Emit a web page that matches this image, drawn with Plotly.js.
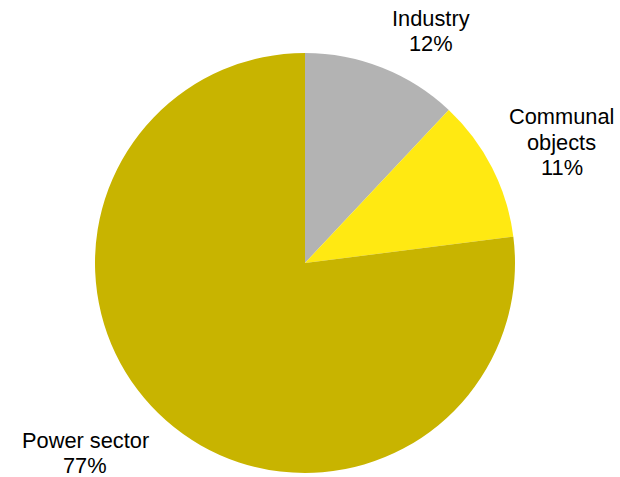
<!DOCTYPE html>
<html>
<head>
<meta charset="utf-8">
<script src="https://cdn.plot.ly/plotly-3.0.1.min.js"></script>
<style>html,body{margin:0;padding:0;background:#fff;}#chart{width:620px;height:477px;}</style>
</head>
<body>
<div id="chart"></div>
<script>
const labels = ["Industry", "Communal objects", "Power sector"];
const labelLines = [["Industry"], ["Communal", "objects"], ["Power sector"]];
const values = [12, 11, 77];
const colors = ["#b3b3b3", "#ffe912", "#c8b400"];

const W = 620, H = 477;
// label block: centre x, first-line centre y (pixels)
const labelPos = [[431, 18.5], [561.5, 117], [85, 440]];
const lineGap = 25.3;

const annotations = [];
labelLines.forEach((lines, i) => {
  const all = lines.concat([values[i] + "%"]);
  all.forEach((t, j) => {
    annotations.push({
      text: t,
      x: labelPos[i][0] / W,
      y: 1 - (labelPos[i][1] + j * lineGap) / H,
      xref: "paper", yref: "paper",
      xanchor: "center", yanchor: "middle",
      showarrow: false,
      borderpad: 0,
      font: {family: "Liberation Sans, Arial, sans-serif", size: 21.8, color: "#000"}
    });
  });
});

Plotly.newPlot("chart", [{
  type: "pie",
  labels: labels,
  values: values,
  marker: {colors: colors, line: {width: 0}},
  sort: false,
  direction: "clockwise",
  rotation: 0,
  textinfo: "none",
  hoverinfo: "label+percent",
  domain: {x: [95 / W, 515 / W], y: [4 / H, 424 / H]}
}], {
  width: W, height: H,
  margin: {l: 0, r: 0, t: 0, b: 0},
  showlegend: false,
  paper_bgcolor: "#fff",
  annotations: annotations
}, {displayModeBar: false, staticPlot: true});
</script>
</body>
</html>
